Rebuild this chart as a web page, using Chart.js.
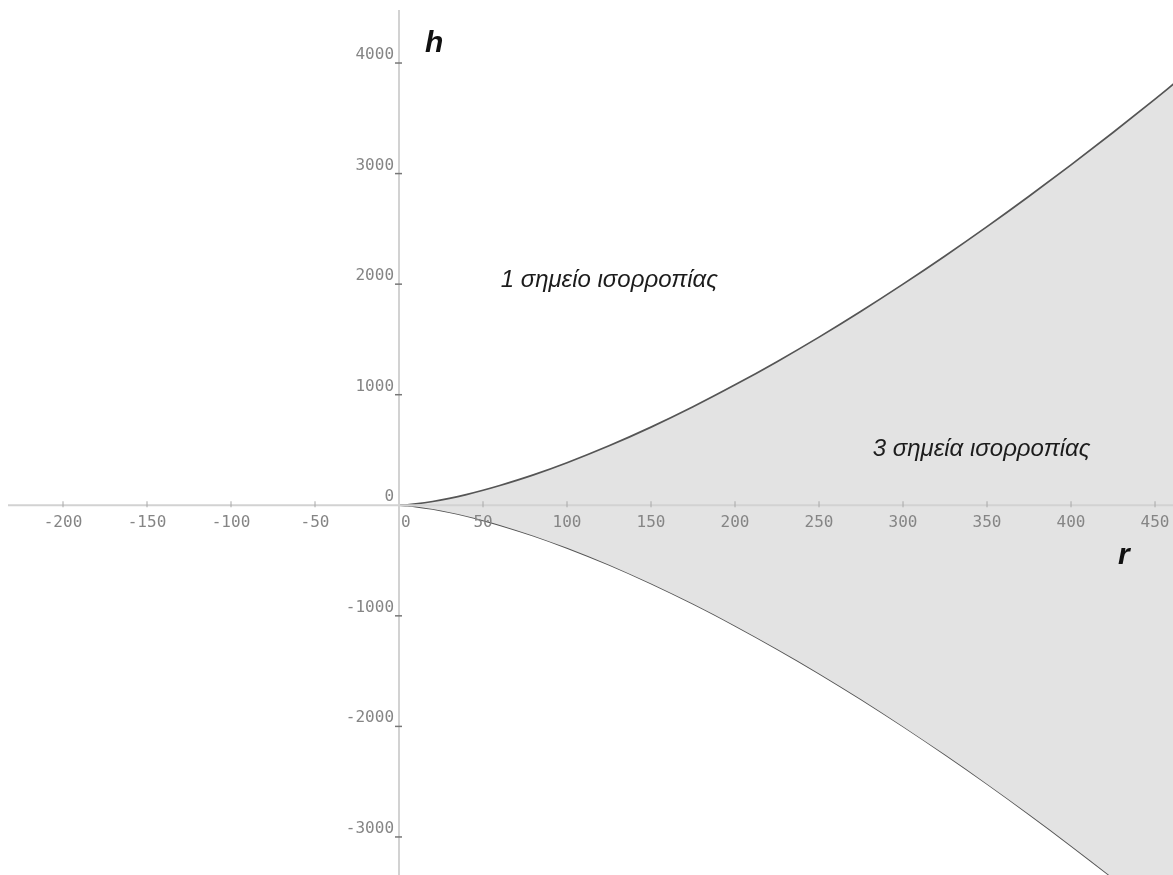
<!DOCTYPE html>
<html>
<head>
<meta charset="utf-8">
<script src="https://cdn.jsdelivr.net/npm/chart.js@4.4.1/dist/chart.umd.min.js"></script>
<style>
    body { margin: 0; background: #ffffff; }
    canvas { display: block; }
</style>
</head>
<body>
<canvas id="cuspChart" width="1173" height="875"></canvas>
<script>
// values
const rValues = [0, 5, 10, 20, 30, 40, 50, 60, 80, 100, 125, 150, 175, 200, 225, 250, 275, 300, 325, 350, 375, 400, 425, 450, 461];
const hUpper = [0, 4, 12, 34, 63, 97, 136, 179, 275, 385, 538, 707, 891, 1089, 1299, 1521, 1755, 2000, 2255, 2520, 2795, 3079, 3372, 3674, 3810];
const hLower = [0, -4, -12, -34, -63, -97, -136, -179, -275, -385, -538, -707, -891, -1089, -1299, -1521, -1755, -2000, -2255, -2520, -2795, -3079, -3372, -3674, -3810];

const rTicks = [-200, -150, -100, -50, 0, 50, 100, 150, 200, 250, 300, 350, 400, 450];
const hTicks = [-3000, -2000, -1000, 0, 1000, 2000, 3000, 4000];

// text labels: [text, r, h]
const regionLabels = [
    ['1 σημείο ισορροπίας', 60.5, 1975],
    ['3 σημεία ισορροπίας', 282, 446]
];
const axisNames = [
    ['h', 15.5, 4100],
    ['r', 428, -532]
];

function toPoints(xs, ys) {
    return xs.map((x, i) => ({ x: x, y: ys[i] }));
}

// draws the axes through the origin with ticks and labels
const crossAxes = {
    id: 'crossAxes',
    afterDatasetsDraw(chart) {
        const ctx = chart.ctx;
        const xs = chart.scales.x;
        const ys = chart.scales.y;
        const x0 = xs.getPixelForValue(0);
        const y0 = ys.getPixelForValue(0);
        ctx.save();

        // axis lines
        ctx.strokeStyle = '#d2d2d2';
        ctx.lineWidth = 2;
        ctx.beginPath();
        ctx.moveTo(8, y0);
        ctx.lineTo(chart.width, y0);
        ctx.moveTo(x0, 10);
        ctx.lineTo(x0, chart.height);
        ctx.stroke();

        ctx.font = '16px "DejaVu Sans Mono"';
        ctx.fillStyle = '#858585';

        // r ticks
        rTicks.forEach(v => {
            let px = xs.getPixelForValue(v);
            if (v !== 0) {
                ctx.strokeStyle = '#a8a8a8';
                ctx.lineWidth = 1;
                ctx.beginPath();
                ctx.moveTo(px, y0 - 4);
                ctx.lineTo(px, y0 + 2);
                ctx.stroke();
            }
            ctx.textBaseline = 'alphabetic';
            if (v === 0) {
                ctx.textAlign = 'left';
                ctx.fillText(String(v), px + 2, y0 + 22);
            } else {
                ctx.textAlign = 'center';
                ctx.fillText(String(v), px, y0 + 22);
            }
        });

        // h ticks
        hTicks.forEach(v => {
            let py = ys.getPixelForValue(v);
            if (v !== 0) {
                ctx.strokeStyle = '#777777';
                ctx.lineWidth = 1.5;
                ctx.beginPath();
                ctx.moveTo(x0 - 4, py);
                ctx.lineTo(x0 + 3, py);
                ctx.stroke();
            }
            ctx.textAlign = 'right';
            ctx.textBaseline = 'alphabetic';
            ctx.fillText(String(v), x0 - 5, py - 4);
        });

        // region text
        ctx.fillStyle = '#1c1c1c';
        ctx.textAlign = 'left';
        ctx.font = 'italic 24px "Liberation Sans"';
        regionLabels.forEach(l => {
            ctx.fillText(l[0], xs.getPixelForValue(l[1]), ys.getPixelForValue(l[2]));
        });
        ctx.fillStyle = '#111111';
        ctx.font = 'italic bold 30px "Liberation Sans"';
        axisNames.forEach(l => {
            ctx.fillText(l[0], xs.getPixelForValue(l[1]), ys.getPixelForValue(l[2]));
        });

        ctx.restore();
    }
};

const ctx = document.getElementById('cuspChart').getContext('2d');
new Chart(ctx, {
    type: 'line',
    data: {
        datasets: [{
            label: 'upper',
            data: toPoints(rValues, hUpper),
            borderColor: '#555555',
            borderWidth: 1.7,
            backgroundColor: '#e3e3e3',
            pointRadius: 0,
            cubicInterpolationMode: 'monotone',
            fill: '+1'
        }, {
            label: 'lower',
            data: toPoints(rValues, hLower),
            borderColor: '#555555',
            borderWidth: 1.7,
            pointRadius: 0,
            cubicInterpolationMode: 'monotone',
            fill: false
        }]
    },
    options: {
        responsive: false,
        animation: false,
        layout: { padding: 0 },
        scales: {
            x: { type: 'linear', min: -237.5, max: 460.7, display: false },
            y: { type: 'linear', min: -3344, max: 4570, display: false }
        },
        plugins: {
            legend: { display: false },
            tooltip: { enabled: false }
        }
    },
    plugins: [crossAxes]
});
</script>
</body>
</html>
